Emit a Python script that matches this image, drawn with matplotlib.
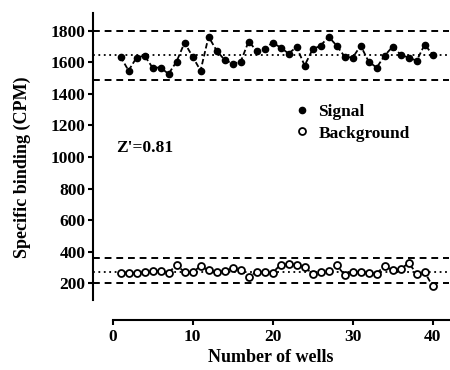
import matplotlib
matplotlib.use('Agg')
import matplotlib.pyplot as plt
from matplotlib.lines import Line2D
import numpy as np

plt.rcParams['font.family'] = 'Liberation Serif'
plt.rcParams['font.weight'] = 'bold'

wells = np.arange(1, 41)
signal = [1636, 1547, 1629, 1642, 1566, 1566, 1526, 1604, 1724, 1636,
          1547, 1762, 1674, 1615, 1591, 1602, 1731, 1674, 1686, 1724,
          1693, 1655, 1697, 1579, 1682, 1705, 1762, 1705, 1636, 1629,
          1705, 1604, 1566, 1642, 1699, 1648, 1629, 1610, 1712, 1648]
background = [265, 265, 267, 270, 276, 278, 267, 316, 270, 270,
              308, 282, 270, 278, 295, 282, 238, 274, 270, 267,
              318, 320, 316, 301, 261, 270, 278, 314, 253, 274,
              270, 265, 261, 312, 282, 290, 328, 261, 270, 181]

signal_mean, signal_hi, signal_lo = 1646, 1800, 1486
background_mean, background_hi, background_lo = 272, 360, 200
z_prime = "Z'=0.81"

W, H = 450, 370
fig = plt.figure(figsize=(4.5, 3.7), dpi=100)
ax = fig.add_axes([93.3 / W, (H - 300) / H, (448.7 - 93.3) / W, (300 - 13.3) / H])

for lvl in [signal_hi, signal_lo, background_hi, background_lo]:
    ax.axhline(lvl, color='black', lw=1.4, ls=(0, (3.5, 2.5)))
for lvl in [signal_mean, background_mean]:
    ax.axhline(lvl, color='black', lw=1.3, ls=(0, (1, 2)))

ax.plot(wells, signal, color='black', lw=1.3, ls=(0, (3, 1.5)),
        marker='o', ms=4.5, mfc='black', mec='black')
ax.plot(wells, background, color='black', lw=1.3, ls=(0, (3, 1.5)),
        marker='o', ms=5.0, mfc='white', mec='black', mew=1.3)

ax.set_xlim(-2.4, 42)
ax.set_ylim(94, 1910)
ax.set_xticks([0, 10, 20, 30, 40])
ax.set_yticks(np.arange(200, 1801, 200))
ax.spines['top'].set_visible(False)
ax.spines['right'].set_visible(False)
ax.spines['bottom'].set_position(('outward', 14.4))
ax.spines['bottom'].set_bounds(0, 42)
ax.spines['bottom'].set_linewidth(1.5)
ax.spines['left'].set_linewidth(1.5)
ax.tick_params(axis='both', direction='out', length=3.6, width=1.5, labelsize=12.5)
ax.tick_params(axis='x', pad=3)
ax.tick_params(axis='y', pad=2)

ax.set_xlabel('Number of wells', fontsize=13, fontweight='bold')
ax.xaxis.set_label_coords(0.5, (300 - 349) / 286.7)
ax.set_ylabel('Specific binding (CPM)', fontsize=13, fontweight='bold')
ax.yaxis.set_label_coords((31 - 93.3) / 355.4, (300 - 167) / 286.7)

fig.text(116 / W, 1 - 148 / H, z_prime, fontsize=12.5, fontweight='bold',
         va='center', ha='left')

handles = [Line2D([], [], ls='none', marker='o', ms=4.5, mfc='black', mec='black'),
           Line2D([], [], ls='none', marker='o', ms=5, mfc='white', mec='black', mew=1.3)]
ax.legend(handles, ['Signal', 'Background'], frameon=False, loc='upper left',
          bbox_to_anchor=(294 / W, 1 - 104 / H), bbox_transform=fig.transFigure,
          prop={'size': 12.5, 'weight': 'bold'}, handletextpad=0.5, labelspacing=0.3,
          handlelength=0.9, borderpad=0, borderaxespad=0)

fig.savefig('out.png', dpi=100)
